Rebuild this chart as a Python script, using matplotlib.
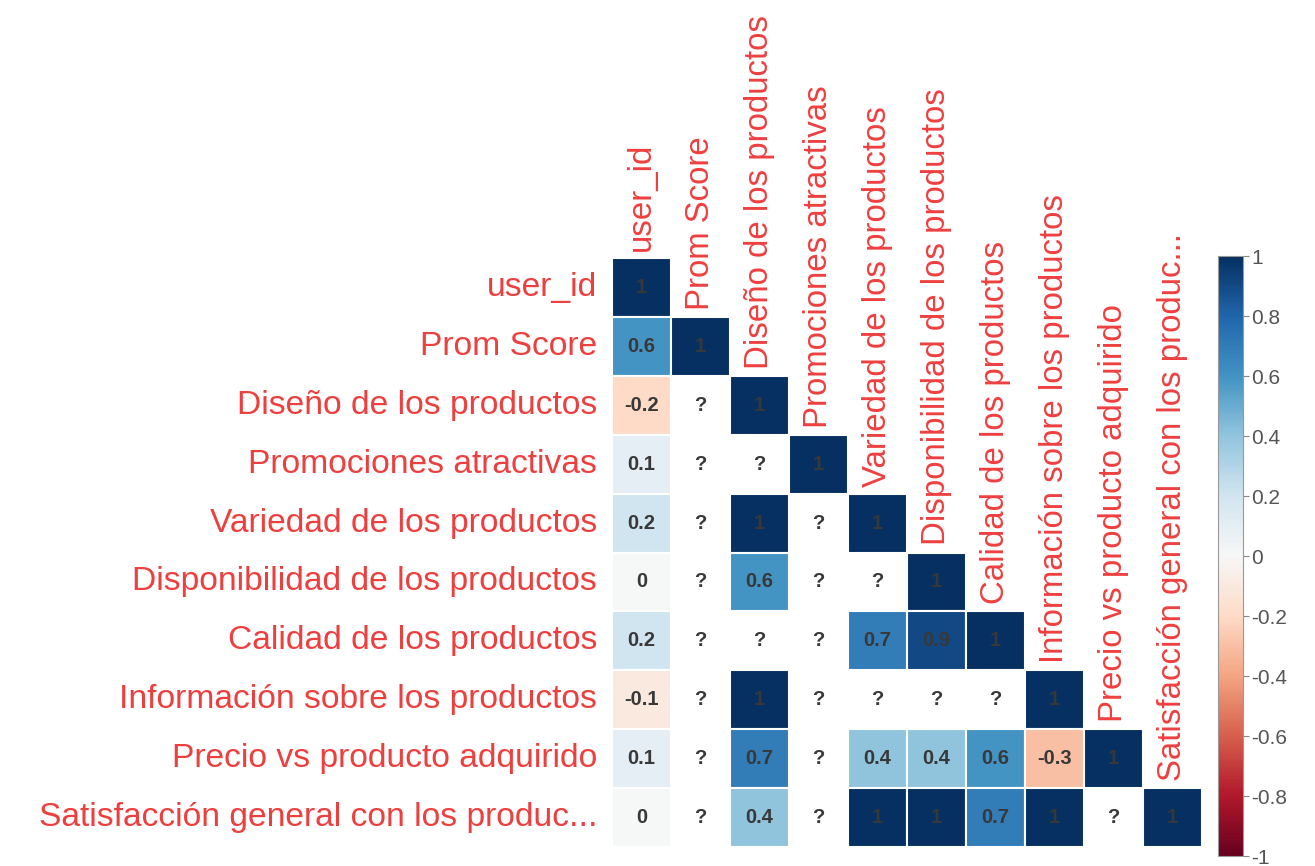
import numpy as np
import matplotlib
matplotlib.use("Agg")
import matplotlib.pyplot as plt
from matplotlib.colors import Normalize
from matplotlib.cm import ScalarMappable

plt.rcParams['font.family'] = ['Liberation Sans', 'DejaVu Sans']

row_labels = ["user_id", "Prom Score", "Diseño de los productos", "Promociones atractivas",
              "Variedad de los productos", "Disponibilidad de los productos",
              "Calidad de los productos", "Información sobre los productos",
              "Precio vs producto adquirido", "Satisfacción general con los produc..."]
col_labels = row_labels

nan = np.nan
r_user_id = [1]
r_prom = [0.6, 1]
r_diseno = [-0.2, nan, 1]
r_promo = [0.1, nan, nan, 1]
r_variedad = [0.2, nan, 1, nan, 1]
r_disp = [0, nan, 0.6, nan, nan, 1]
r_calidad = [0.2, nan, nan, nan, 0.7, 0.9, 1]
r_info = [-0.1, nan, 1, nan, nan, nan, nan, 1]
r_precio = [0.1, nan, 0.7, nan, 0.4, 0.4, 0.6, -0.3, 1]
r_satis = [0, nan, 0.4, nan, 1, 1, 0.7, 1, nan, 1]
rows = [r_user_id, r_prom, r_diseno, r_promo, r_variedad, r_disp, r_calidad, r_info, r_precio, r_satis]

n = len(row_labels)
W, H = 1315, 866
fig = plt.figure(figsize=(W / 100, H / 100), dpi=100)

gx0, gx1, gy0, gy1 = 612, 1202, 258, 847
ax = fig.add_axes([gx0 / W, 1 - gy1 / H, (gx1 - gx0) / W, (gy1 - gy0) / H])
ax.set_xlim(-0.5, n - 0.5)
ax.set_ylim(n - 0.5, -0.5)
ax.axis('off')

cmap = plt.get_cmap('RdBu')
norm = Normalize(-1, 1)
label_col = '#ee3f3f'
num_col = '#383838'

for i, row in enumerate(rows):
    for j, v in enumerate(row):
        if np.isnan(v):
            ax.text(j, i, '?', ha='center', va='center', fontsize=14.5, fontweight='bold', color=num_col)
            continue
        ax.add_patch(plt.Rectangle((j - 0.5, i - 0.5), 1, 1, facecolor=cmap(norm(v)),
                                   edgecolor='white', linewidth=1.5))
        txt = '0' if v == 0 else ('%g' % v)
        ax.text(j, i, txt, ha='center', va='center', fontsize=14.5, fontweight='bold', color=num_col)

for i, lab in enumerate(row_labels):
    ax.text(-0.5 - 0.25, i, lab, ha='right', va='center', fontsize=24.2, color=label_col, clip_on=False)

for j, lab in enumerate(col_labels):
    ax.text(j, j - 0.5 - 0.12, lab, ha='center', va='bottom', rotation=90, fontsize=23.8,
            color=label_col, clip_on=False)

cx0, cx1, cy0, cy1 = 1218, 1243, 256, 856
cax = fig.add_axes([cx0 / W, 1 - cy1 / H, (cx1 - cx0) / W, (cy1 - cy0) / H])
sm = ScalarMappable(norm=norm, cmap=cmap)
cb = fig.colorbar(sm, cax=cax)
ticks = [-1, -0.8, -0.6, -0.4, -0.2, 0, 0.2, 0.4, 0.6, 0.8, 1]
cb.set_ticks(ticks)
cb.set_ticklabels(['%g' % t for t in ticks])
cb.outline.set_edgecolor('#999999')
cb.outline.set_linewidth(0.8)
cax.tick_params(axis='y', length=4, width=0.8, color='#888888', labelsize=15,
                labelcolor='#555555', pad=2)

fig.savefig('out.png', dpi=100)
